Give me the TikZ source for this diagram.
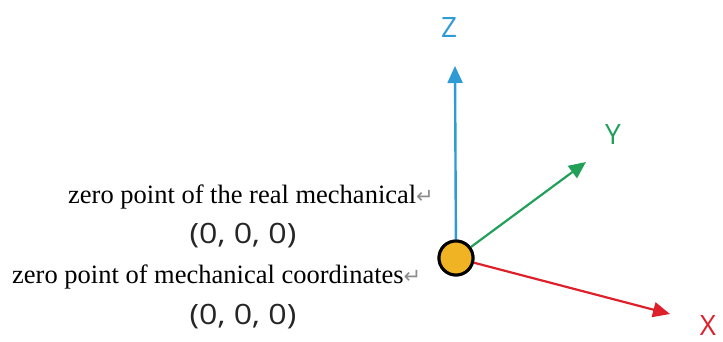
\documentclass[tikz,border=0pt]{standalone}
\usepackage{fontspec}
\usepackage{graphicx}
\setmainfont{Liberation Serif}
\newfontfamily\labfont{Open Sans}
\newfontfamily\symfont{DejaVu Sans}
\usetikzlibrary{arrows.meta}
\definecolor{zblue}{RGB}{46,155,212}
\definecolor{ygreen}{RGB}{34,160,90}
\definecolor{xred}{RGB}{222,32,42}
\definecolor{origfill}{RGB}{240,179,35}
\definecolor{retgray}{RGB}{140,140,140}
\tikzset{
  axis/.style={line width=2.4pt,-{Triangle[length=17pt,width=15pt]}},
  axislabel/.style={font=\labfont\fontsize{28}{32}\selectfont, inner sep=0pt},
  desc/.style={font=\fontsize{26.5}{30}\selectfont, inner sep=0pt, anchor=base west},
  coord/.style={font=\labfont\fontsize{28}{32}\selectfont, inner sep=0pt, text=black!85},
}
\newcommand{\retsym}{{\symfont\fontsize{21}{24}\selectfont\color{retgray}↵}}
\begin{document}
\begin{tikzpicture}[x=1pt,y=-1pt]
\useasboundingbox (0,0) rectangle (723,341);
\node[circle, draw=black, line width=3pt, fill=origfill, minimum size=34pt, inner sep=0pt] (o) at (456,258) {};
\coordinate (zt) at (455,66);
\coordinate (yt) at (586,162);
\coordinate (xt) at (670,314);
\draw[axis, zblue] (o) -- (zt);
\draw[axis, ygreen, line width=2.2pt] (o) -- (yt);
\draw[axis, xred, line width=2.2pt] (o) -- (xt);
\node[circle, draw=black, line width=3pt, fill=origfill, minimum size=34pt, inner sep=0pt] (o2) at (o) {};
\node[axislabel, text=zblue] (zl) at (449,28) {Z};
\node[axislabel, text=ygreen] (yl) at (613,135) {Y};
\node[axislabel, text=xred] (xl) at (708,325) {X};
\node[desc] (d1) at (68,203) {zero point of the real mechanical\retsym};
\node[desc] (d2) at (12,283) {zero point of mechanical coordinates\retsym};
\node[coord] (c1) at (243,236) {\scalebox{1.15}[1]{(0, 0, 0)}};
\node[coord] (c2) at (243,317) {\scalebox{1.15}[1]{(0, 0, 0)}};
\end{tikzpicture}
\end{document}
